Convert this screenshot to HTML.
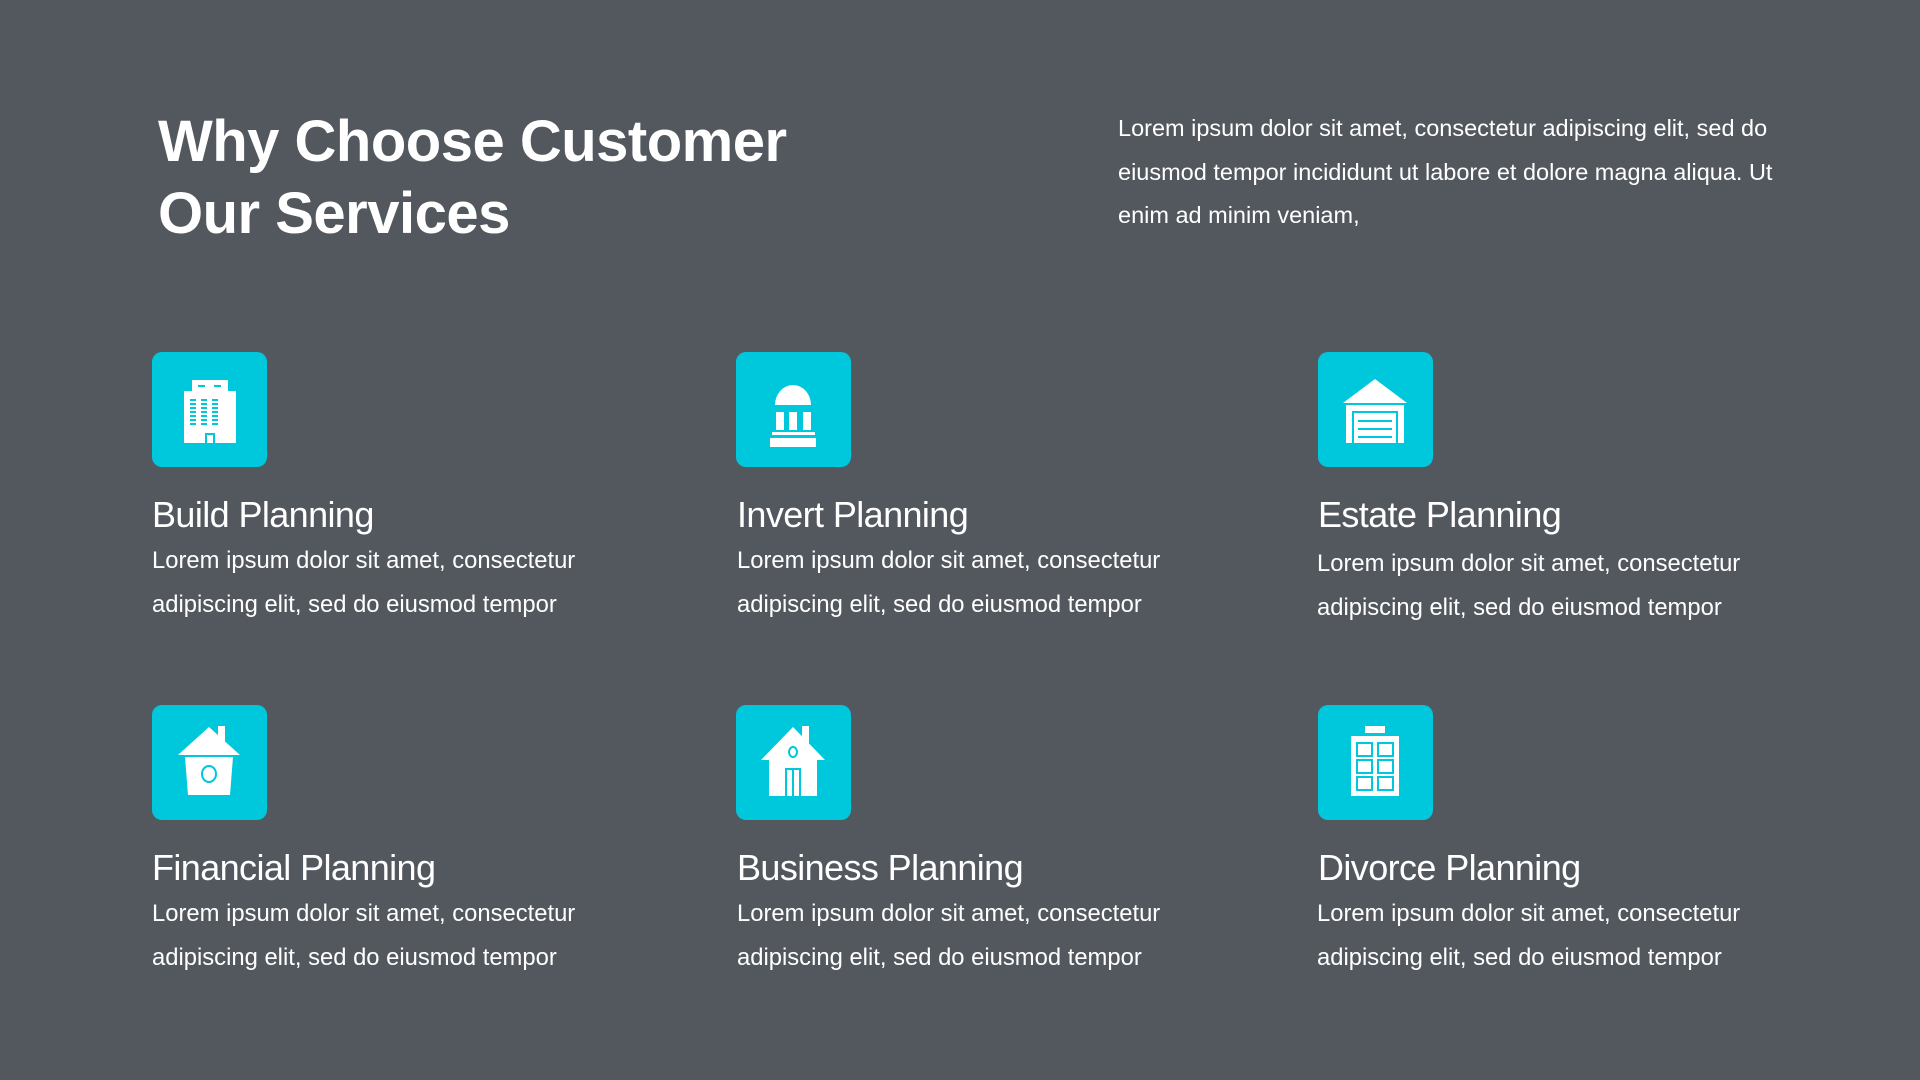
<!DOCTYPE html>
<html><head><meta charset="utf-8"><style>
html,body{margin:0;padding:0}
body{width:1920px;height:1080px;background:#53585f;position:relative;overflow:hidden;font-family:"Liberation Sans",sans-serif;color:#fff}
.a{position:absolute;white-space:nowrap}
h1{position:absolute;left:158px;top:106px;margin:0;font-size:58px;line-height:72px;font-weight:bold;letter-spacing:-0.5px}
.intro{left:1118px;top:107px;font-size:23.5px;line-height:43.5px}
.box{position:absolute;width:115px;height:115px;border-radius:10px;background:#00c8dc}
.box svg{width:115px;height:115px;display:block}
.h{font-size:36px;letter-spacing:-0.6px;line-height:40px}
.d{font-size:23.8px;line-height:44px}
</style></head><body>
<h1>Why Choose Customer<br>Our Services</h1>
<div class="a intro">Lorem ipsum dolor sit amet, consectetur adipiscing elit, sed do<br>eiusmod tempor incididunt ut labore et dolore magna aliqua. Ut<br>enim ad minim veniam,</div>

<!-- row 1 -->
<div class="box" style="left:152px;top:352px"><svg viewBox="0 0 115 115"><g fill="#fff"><rect x="40" y="28" width="36" height="12"/><rect x="32" y="39" width="52" height="52"/></g><g fill="#00c8dc"><rect x="46" y="33" width="7" height="2"/><rect x="62" y="33" width="7" height="2"/><g id="c"><rect x="38" y="47" width="6" height="2"/><rect x="38" y="51" width="6" height="2"/><rect x="38" y="55" width="6" height="2"/><rect x="38" y="59" width="6" height="2"/><rect x="38" y="63" width="6" height="2"/><rect x="38" y="67" width="6" height="2"/><rect x="38" y="71" width="6" height="2"/></g><use href="#c" x="11"/><use href="#c" x="22"/><rect x="53" y="81" width="10" height="10"/></g><rect x="55" y="83" width="6" height="8" fill="#fff"/></svg></div>
<div class="box" style="left:736px;top:352px"><svg viewBox="0 0 115 115"><g fill="#fff"><path d="M39 53 A18 20 0 0 1 75 53 Z"/><rect x="40" y="60" width="8" height="18"/><rect x="53" y="60" width="8" height="18"/><rect x="67" y="60" width="8" height="18"/><rect x="36" y="80" width="43" height="3"/><rect x="34" y="86" width="46" height="9"/></g></svg></div>
<div class="box" style="left:1318px;top:352px"><svg viewBox="0 0 115 115"><g fill="#fff"><path d="M57 27 L89 51 L25 51 Z"/><rect x="28" y="53" width="58" height="38"/></g><rect x="34" y="59" width="46" height="32" fill="#00c8dc"/><rect x="36" y="61" width="42" height="30" fill="#fff"/><g fill="#00c8dc"><rect x="40" y="68" width="34" height="2"/><rect x="40" y="76" width="34" height="2"/><rect x="40" y="84" width="34" height="2"/></g></svg></div>

<div class="a h" style="left:152px;top:495px">Build Planning</div>
<div class="a d" style="left:152px;top:539px">Lorem ipsum dolor sit amet, consectetur<br>adipiscing elit, sed do eiusmod tempor</div>
<div class="a h" style="left:737px;top:495px">Invert Planning</div>
<div class="a d" style="left:737px;top:539px">Lorem ipsum dolor sit amet, consectetur<br>adipiscing elit, sed do eiusmod tempor</div>
<div class="a h" style="left:1318px;top:495px">Estate Planning</div>
<div class="a d" style="left:1317px;top:542px">Lorem ipsum dolor sit amet, consectetur<br>adipiscing elit, sed do eiusmod tempor</div>

<!-- row 2 -->
<div class="box" style="left:152px;top:705px"><svg viewBox="0 0 115 115"><g fill="#fff"><polygon points="57,22 26,50 88,50"/><rect x="66" y="21" width="7" height="20"/><path d="M33 52 L81 52 L78 90 L36 90 Z"/></g><ellipse cx="57" cy="69" rx="7" ry="8" fill="none" stroke="#00c8dc" stroke-width="2"/></svg></div>
<div class="box" style="left:736px;top:705px"><svg viewBox="0 0 115 115"><g fill="#fff"><polygon points="57,22 25,55 89,55"/><rect x="66" y="21" width="7" height="20"/><rect x="33" y="54" width="48" height="37"/></g><ellipse cx="57" cy="47" rx="4" ry="5" fill="none" stroke="#00c8dc" stroke-width="2"/><rect x="49" y="63" width="16" height="28" fill="#00c8dc"/><rect x="51" y="65" width="12" height="26" fill="#fff"/><rect x="56" y="65" width="2" height="26" fill="#00c8dc"/></svg></div>
<div class="box" style="left:1318px;top:705px"><svg viewBox="0 0 115 115"><g fill="#fff"><rect x="47" y="21" width="20" height="7"/><rect x="33" y="31" width="48" height="60"/></g><g fill="none" stroke="#00c8dc" stroke-width="2"><rect x="39" y="38" width="15" height="13"/><rect x="60" y="38" width="15" height="13"/><rect x="39" y="55" width="15" height="13"/><rect x="60" y="55" width="15" height="13"/><rect x="39" y="72" width="15" height="13"/><rect x="60" y="72" width="15" height="13"/></g></svg></div>

<div class="a h" style="left:152px;top:848px">Financial Planning</div>
<div class="a d" style="left:152px;top:892px">Lorem ipsum dolor sit amet, consectetur<br>adipiscing elit, sed do eiusmod tempor</div>
<div class="a h" style="left:737px;top:848px">Business Planning</div>
<div class="a d" style="left:737px;top:892px">Lorem ipsum dolor sit amet, consectetur<br>adipiscing elit, sed do eiusmod tempor</div>
<div class="a h" style="left:1318px;top:848px">Divorce Planning</div>
<div class="a d" style="left:1317px;top:892px">Lorem ipsum dolor sit amet, consectetur<br>adipiscing elit, sed do eiusmod tempor</div>
</body></html>
